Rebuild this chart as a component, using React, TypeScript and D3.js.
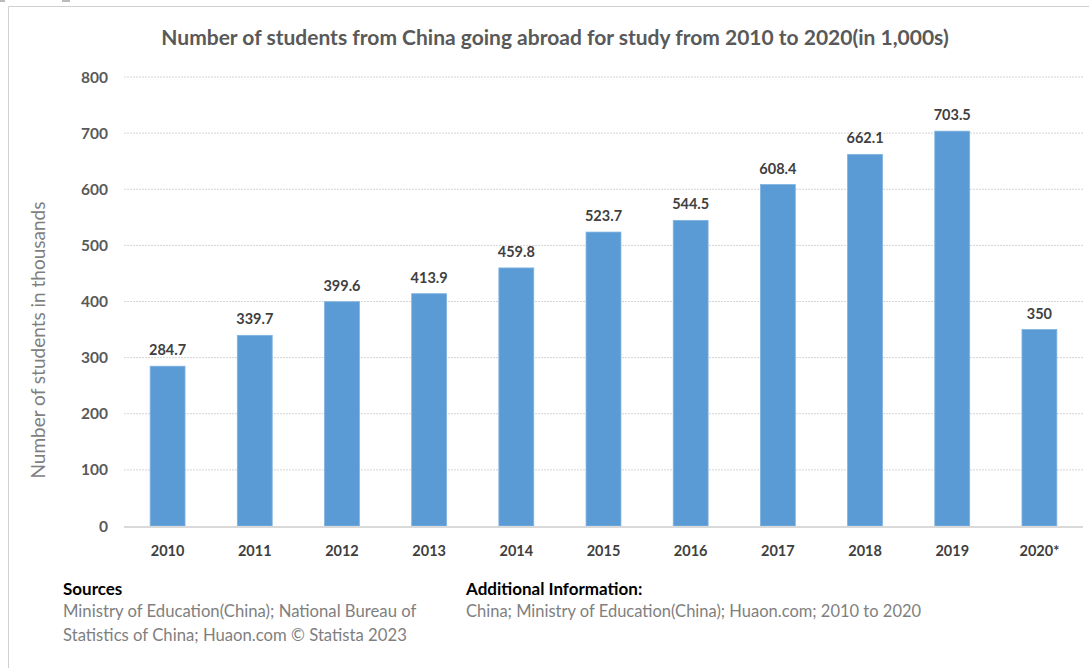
import React from "react";
import * as d3 from "d3";

const years = ["2010", "2011", "2012", "2013", "2014", "2015", "2016", "2017", "2018", "2019", "2020*"];
const students = [284.7, 339.7, 399.6, 413.9, 459.8, 523.7, 544.5, 608.4, 662.1, 703.5, 350];
const valueLabels = ["284.7", "339.7", "399.6", "413.9", "459.8", "523.7", "544.5", "608.4", "662.1", "703.5", "350"];
const yTicks = [0, 100, 200, 300, 400, 500, 600, 700, 800];

const W = 1089;
const H = 668;
const FONT = "Lato, 'Open Sans', sans-serif";

export default function App() {
  const x = d3.scaleBand<string>().domain(years).range([124, 1083]).paddingInner(0.6).paddingOuter(0.3);
  const y = d3.scaleLinear().domain([0, 800]).range([526, 77]);

  return (
    <svg width={W} height={H} style={{ position: "absolute", left: 0, top: 0, background: "#fff" }}>
      <rect x={0} y={0} width={W} height={H} fill="#fff" />
      <line x1={8.5} y1={6.5} x2={W} y2={6.5} stroke="#d0d0d0" strokeWidth={1} />
      <line x1={8.5} y1={6.5} x2={8.5} y2={H} stroke="#d0d0d0" strokeWidth={1} />
      <rect x={0} y={0} width={5} height={2} fill="#bbb" />
      <rect x={62} y={0} width={8} height={2} fill="#bbb" />

      <text x={555} y={45} textAnchor="middle" fontFamily={FONT} fontWeight={700} fontSize={21} fill="#595959">
        Number of students from China going abroad for study from 2010 to 2020(in 1,000s)
      </text>

      {yTicks.map((t) => (
        <g key={t}>
          {t > 0 && (
            <line x1={124} x2={1083} y1={y(t)} y2={y(t)} stroke="#d4d4d4" strokeWidth={1} strokeDasharray="2,1" />
          )}
          <text x={108} y={y(t) + 5.5} textAnchor="end" fontFamily={FONT} fontWeight={700} fontSize={15.5} fill="#595959">
            {t}
          </text>
        </g>
      ))}

      <text
        transform={`translate(45,340) rotate(-90)`}
        textAnchor="middle"
        fontFamily={FONT}
        fontSize={19}
        fill="#7f7f7f"
      >
        Number of students in thousands
      </text>

      {years.map((yr, i) => {
        const bx = x(yr) as number;
        const bw = x.bandwidth();
        return (
          <g key={yr}>
            <rect x={bx} y={y(students[i])} width={bw} height={y(0) - y(students[i])} fill="#5b9bd5" stroke="#7fb2e0" strokeWidth={0.8} />
            <text x={bx + bw / 2} y={y(students[i]) - 11} textAnchor="middle" fontFamily={FONT} fontWeight={700} fontSize={14.5} fill="#404040">
              {valueLabels[i]}
            </text>
            <text x={bx + bw / 2} y={556} textAnchor="middle" fontFamily={FONT} fontWeight={700} fontSize={14.5} fill="#404040">
              {yr}
            </text>
          </g>
        );
      })}

      <line x1={124} x2={1083} y1={527} y2={527} stroke="#d9d9d9" strokeWidth={2} />

      <text x={63} y={595} fontFamily={FONT} fontWeight={700} fontSize={17} fill="#000">Sources</text>
      <text x={63} y={617} fontFamily={FONT} fontSize={16.7} fill="#7f7f7f">Ministry of Education(China); National Bureau of</text>
      <text x={63} y={641} fontFamily={FONT} fontSize={16.7} fill="#7f7f7f">Statistics of China; Huaon.com © Statista 2023</text>

      <text x={466} y={595} fontFamily={FONT} fontWeight={700} fontSize={17} fill="#000">Additional Information:</text>
      <text x={466} y={617} fontFamily={FONT} fontSize={16.5} fill="#7f7f7f">China; Ministry of Education(China); Huaon.com; 2010 to 2020</text>
    </svg>
  );
}
